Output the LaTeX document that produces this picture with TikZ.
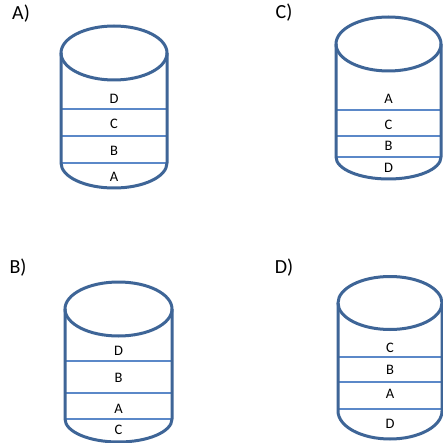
\documentclass[tikz,border=0pt]{standalone}
\usepackage{fontspec}
\setmainfont{Carlito}
\definecolor{rim}{HTML}{3E6597}
\definecolor{band}{HTML}{5B88C8}
\tikzset{
  rimline/.style={draw=rim, line width=3pt},
  bandline/.style={draw=band, line width=1.4pt},
  layer/.style={font=\fontsize{14.5}{16}\selectfont, text=black, inner sep=0pt},
  caption/.style={font=\fontsize{20}{22}\selectfont, text=black, inner sep=0pt}
}
% #1 centre x, #2 half width, #3 top ellipse y, #4 top ellipse radius y,
% #5 y where the sides end, #6 bottom curve radius y
\newcommand{\drum}[6]{%
  \draw[rimline] (#1,#3) ellipse [x radius=#2, y radius=#4];
  \draw[rimline] (#1-#2,#3) -- (#1-#2,#5)
     arc [start angle=180, end angle=360, x radius=#2, y radius=-#6]
     -- (#1+#2,#3);
}
\newcommand{\band}[3]{\draw[bandline] (#1-#2,#3) -- (#1+#2,#3);}
\begin{document}
\begin{tikzpicture}[x=1pt,y=-1pt]
\useasboundingbox (0,0) rectangle (443,443);
\clip (0,0) rectangle (443,443);
\fill[white] (0,0) rectangle (443,443);

% A
\node[caption] (capA) at (21,14) {A)};
\band{114}{53}{109}\band{114}{53}{136}\band{114}{53}{163}
\drum{114}{53}{53}{27}{163}{25}
\node[layer] (aD) at (114,99) {D};
\node[layer] (aC) at (114,124) {C};
\node[layer] (aB) at (114,151) {B};
\node[layer] (aA) at (114,177) {A};

% C
\node[caption] (capC) at (284,13) {C)};
\band{388.5}{52.5}{110}\band{388.5}{52.5}{136}\band{388.5}{52.5}{157}
\drum{388.5}{52.5}{44}{27}{157}{22}
\node[layer] (cA) at (388.5,99) {A};
\node[layer] (cC) at (388.5,125) {C};
\node[layer] (cB) at (388.5,146) {B};
\node[layer] (cD) at (388.5,168) {D};

% B
\node[caption] (capB) at (18,268) {B)};
\band{118.5}{53.5}{361}\band{118.5}{53.5}{393}\band{118.5}{53.5}{419}
\drum{118.5}{53.5}{309}{27}{419}{23}
\node[layer] (bD) at (118.5,351) {D};
\node[layer] (bB) at (118.5,378) {B};
\node[layer] (bA) at (118.5,409) {A};
\node[layer] (bC) at (118.5,430) {C};

% D
\node[caption] (capD) at (284,268) {D)};
\band{390}{52}{357}\band{390}{52}{382}\band{390}{52}{409}
\drum{390}{52}{303}{26.5}{411}{28}
\node[layer] (dC) at (390,348) {C};
\node[layer] (dB) at (390,370) {B};
\node[layer] (dA) at (390,394) {A};
\node[layer] (dD) at (390,424) {D};
\end{tikzpicture}
\end{document}
